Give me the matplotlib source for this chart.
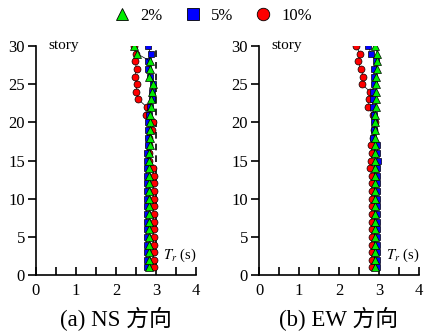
import numpy as np
import matplotlib.pyplot as plt
from matplotlib.lines import Line2D

plt.rcParams['font.family'] = ['Liberation Serif', 'Noto Sans CJK SC']
plt.rcParams['mathtext.fontset'] = 'stix'

stories = list(range(1, 31))

# NS direction, story 1 -> 30
ns_2 = [2.83, 2.83, 2.83, 2.83, 2.83, 2.83, 2.83, 2.83, 2.83, 2.83,
        2.83, 2.83, 2.83, 2.83, 2.83, 2.83, 2.84, 2.84, 2.85, 2.85,
        2.86, 2.87, 2.88, 2.89, 2.92, 2.82, 2.84, 2.86, 2.52, 2.46]
ns_5 = [2.77, 2.77, 2.77, 2.77, 2.77, 2.77, 2.77, 2.77, 2.77, 2.77,
        2.77, 2.77, 2.77, 2.77, 2.78, 2.78, 2.79, 2.79, 2.80, 2.81,
        2.83, 2.86, 2.89, 2.91, 2.92, 2.85, 2.80, 2.81, 2.87, 2.79]
ns_10 = [2.94, 2.94, 2.94, 2.94, 2.94, 2.94, 2.94, 2.94, 2.94, 2.94,
         2.94, 2.94, 2.94, 2.93, 2.82, 2.82, 2.82, 2.83, 2.90, 2.93,
         2.74, 2.77, 2.56, 2.51, 2.52, 2.47, 2.52, 2.47, 2.50, 2.44]
ns_ref = [3.0] * 30

# EW direction, story 1 -> 30
ew_2 = [2.89, 2.89, 2.89, 2.89, 2.89, 2.89, 2.89, 2.89, 2.89, 2.89,
        2.89, 2.89, 2.89, 2.89, 2.89, 2.89, 2.89, 2.89, 2.90, 2.90,
        2.91, 2.92, 2.92, 2.93, 2.93, 2.93, 2.94, 2.94, 2.96, 2.91]
ew_5 = [2.95, 2.95, 2.95, 2.95, 2.95, 2.95, 2.95, 2.95, 2.95, 2.95,
        2.95, 2.95, 2.95, 2.95, 2.97, 2.96, 2.96, 2.86, 2.88, 2.88,
        2.87, 2.84, 2.84, 2.84, 2.88, 2.87, 2.88, 2.93, 2.80, 2.73]
ew_10 = [2.82, 2.82, 2.82, 2.82, 2.82, 2.82, 2.82, 2.82, 2.82, 2.82,
         2.82, 2.82, 2.82, 2.77, 2.80, 2.83, 2.80, 2.86, 2.87, 2.91,
         2.85, 2.73, 2.76, 2.78, 2.57, 2.61, 2.54, 2.48, 2.52, 2.43]

labels = ['2%', '5%', '10%']
titles = ['(a) NS 方向', '(b) EW 方向']

fig = plt.figure(figsize=(4.26, 3.33), dpi=100)
ax1 = fig.add_axes([0.0845, 0.174, 0.3756, 0.688])
ax2 = fig.add_axes([0.608, 0.174, 0.3756, 0.688])

style = dict(color='black', linewidth=0.5, markeredgecolor='black',
             markeredgewidth=0.5)


def draw(ax, d2, d5, d10, ref, title):
    if ref is not None:
        ax.plot(ref, stories, color='black', linestyle=(0, (4, 3)),
                linewidth=1.2, zorder=1)
    ax.plot(d10, stories, marker='o', markersize=5, markerfacecolor='red',
            zorder=2, **style)
    ax.plot(d5, stories, marker='s', markersize=4.3, markerfacecolor='blue',
            zorder=3, **style)
    ax.plot(d2, stories, marker='^', markersize=5.2, markerfacecolor='#00ee00',
            zorder=4, **style)
    ax.set_xlim(0, 4)
    ax.set_ylim(0, 30)
    ax.spines['top'].set_visible(False)
    ax.spines['right'].set_visible(False)
    ax.spines['left'].set_linewidth(1.2)
    ax.spines['bottom'].set_linewidth(1.2)
    ax.set_xticks([0, 1, 2, 3, 4])
    ax.set_xticks(np.arange(0.5, 4, 1.0), minor=True)
    ax.set_yticks([0, 5, 10, 15, 20, 25, 30])
    ax.tick_params(axis='x', which='both', direction='in', length=6,
                   width=1.2, labelsize=12, pad=6)
    ax.tick_params(axis='y', direction='out', length=6, width=1.2,
                   labelsize=12, pad=2)
    ax.text(0.3, 30, 'story', fontsize=11, va='center', ha='left')
    ax.text(4.0, 2.6, r'$T_r$ (s)', fontsize=10.5, va='center', ha='right')
    ax.text(0.5, -0.19, title, transform=ax.transAxes, fontsize=16.5,
            ha='center', va='center')


draw(ax1, ns_2, ns_5, ns_10, ns_ref, titles[0])
draw(ax2, ew_2, ew_5, ew_10, None, titles[1])

handles = [
    Line2D([], [], linestyle='none', marker='^', markersize=8,
           markerfacecolor='#00ee00', markeredgecolor='black', markeredgewidth=0.6),
    Line2D([], [], linestyle='none', marker='s', markersize=8,
           markerfacecolor='blue', markeredgecolor='black', markeredgewidth=0.6),
    Line2D([], [], linestyle='none', marker='o', markersize=9,
           markerfacecolor='red', markeredgecolor='black', markeredgewidth=0.6),
]
fig.legend(handles, labels, loc='center', bbox_to_anchor=(0.5, 0.952), ncol=3,
           frameon=False, fontsize=12, handletextpad=0.6, columnspacing=1.3,
           handlelength=1.0)

fig.savefig('out.png', dpi=100)
